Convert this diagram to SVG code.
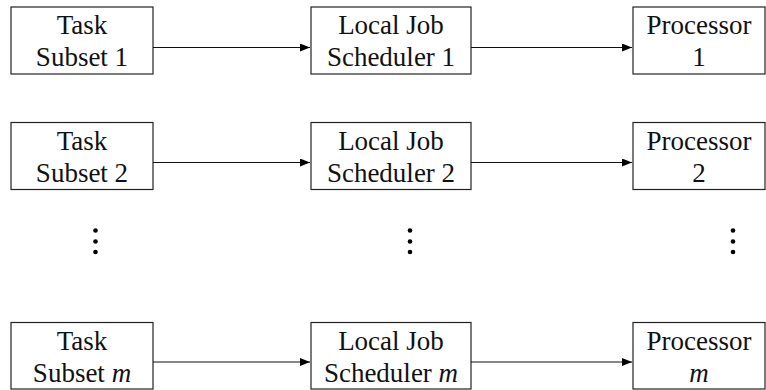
<svg xmlns="http://www.w3.org/2000/svg" width="766" height="390" viewBox="0 0 766 390">
<style>
.box{fill:#fff;stroke:#222;stroke-width:1.2}
.t{font-family:"Liberation Serif","Times New Roman",serif;font-size:27px;fill:#111;text-anchor:middle}
.m{font-style:italic}
.c{stroke:#111;stroke-width:1.1;fill:none;marker-end:url(#ah)}
.dot{fill:#000}
</style>
<defs>
<marker id="ah" viewBox="0 0 10 8" refX="10" refY="4" markerWidth="10" markerHeight="8" markerUnits="userSpaceOnUse" orient="auto">
<path d="M0,0 L10,4 L0,8 Z" fill="#000"/>
</marker>
</defs>
<g id="task1"><rect class="box" x="11" y="7" width="142" height="67"/><text class="t" x="82" y="34">Task</text><text class="t" x="82" y="66">Subset 1</text></g>
<g id="sched1"><rect class="box" x="311" y="7" width="160" height="67"/><text class="t" x="391" y="34">Local Job</text><text class="t" x="391" y="66">Scheduler 1</text></g>
<g id="proc1"><rect class="box" x="633" y="7" width="132" height="67"/><text class="t" x="699" y="34">Processor</text><text class="t" x="699" y="66">1</text></g>
<g id="task2"><rect class="box" x="11" y="122.5" width="142" height="67"/><text class="t" x="82" y="149.5">Task</text><text class="t" x="82" y="181.5">Subset 2</text></g>
<g id="sched2"><rect class="box" x="311" y="122.5" width="160" height="67"/><text class="t" x="391" y="149.5">Local Job</text><text class="t" x="391" y="181.5">Scheduler 2</text></g>
<g id="proc2"><rect class="box" x="633" y="122.5" width="132" height="67"/><text class="t" x="699" y="149.5">Processor</text><text class="t" x="699" y="181.5">2</text></g>
<g id="taskm"><rect class="box" x="11" y="322.5" width="142" height="66.5"/><text class="t" x="82" y="349.5">Task</text><text class="t" x="82" y="381.5">Subset <tspan class="m">m</tspan></text></g>
<g id="schedm"><rect class="box" x="311" y="322.5" width="160" height="66.5"/><text class="t" x="391" y="349.5">Local Job</text><text class="t" x="391" y="381.5">Scheduler <tspan class="m">m</tspan></text></g>
<g id="procm"><rect class="box" x="633" y="322.5" width="132" height="66.5"/><text class="t" x="699" y="349.5">Processor</text><text class="t m" x="699" y="381.5">m</text></g>
<g id="vdots">
<circle class="dot" cx="95.5" cy="230.5" r="2.3"/><circle class="dot" cx="95.5" cy="241.5" r="2.3"/><circle class="dot" cx="95.5" cy="252" r="2.3"/>
<circle class="dot" cx="410" cy="230.5" r="2.3"/><circle class="dot" cx="410" cy="241.5" r="2.3"/><circle class="dot" cx="410" cy="252" r="2.3"/>
<circle class="dot" cx="733" cy="230.5" r="2.3"/><circle class="dot" cx="733" cy="241.5" r="2.3"/><circle class="dot" cx="733" cy="252" r="2.3"/>
</g>
<g id="connectors">
<line class="c" x1="153" y1="47.5" x2="310" y2="47.5"/>
<line class="c" x1="471" y1="47.5" x2="632" y2="47.5"/>
<line class="c" x1="153" y1="162.5" x2="310" y2="162.5"/>
<line class="c" x1="471" y1="162.5" x2="632" y2="162.5"/>
<line class="c" x1="153" y1="362" x2="310" y2="362"/>
<line class="c" x1="471" y1="362" x2="632" y2="362"/>
</g>
</svg>
